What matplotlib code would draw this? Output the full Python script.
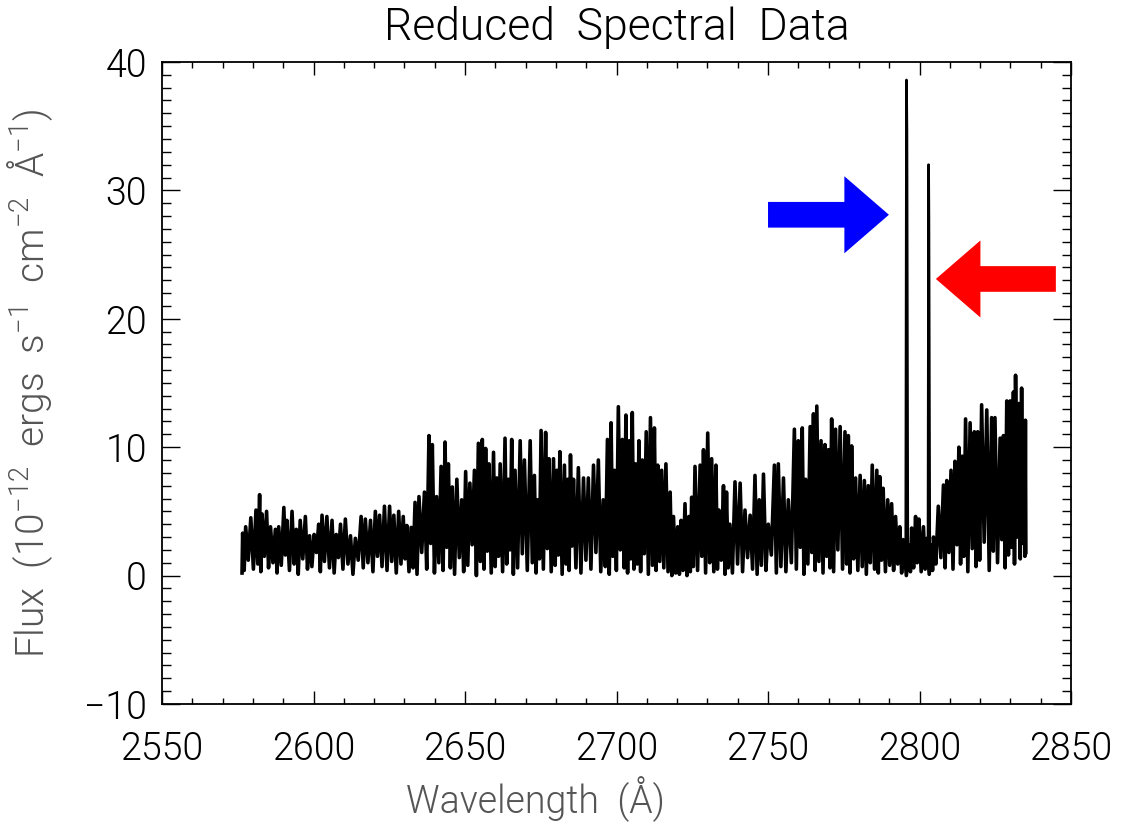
import numpy as np
import matplotlib
matplotlib.use("Agg")
import matplotlib.pyplot as plt
from matplotlib import font_manager as fm

# ---------------- data ----------------
# local maxima of the noisy continuum (Angstrom, flux in 1e-12 units)
wave_peak = [
    2576.6, 2577.6, 2579.3, 2581.0, 2582.2, 2583.0, 2584.5, 2585.8, 2587.4, 2588.5,
    2590.2, 2591.2, 2592.9, 2594.3, 2595.6, 2597.3, 2598.7, 2600.2, 2601.7, 2602.8,
    2604.4, 2606.1, 2607.5, 2608.9, 2610.5, 2612.2, 2613.8, 2615.7, 2617.1, 2618.8,
    2620.4, 2621.8, 2623.4, 2625.1, 2626.5, 2628.1, 2629.6, 2630.8, 2632.2, 2633.5,
    2634.8, 2636.6, 2638.1, 2639.2, 2640.6, 2642.1, 2643.4, 2644.5, 2645.8, 2647.3,
    2648.9, 2650.2, 2651.6, 2653.1, 2654.4, 2655.7, 2656.8, 2657.9, 2659.4, 2660.5,
    2661.6, 2663.2, 2664.3, 2665.4, 2666.5, 2668.2, 2669.6, 2671.5, 2672.9, 2674.0,
    2675.1, 2676.6, 2677.7, 2679.2, 2680.3, 2681.3, 2682.8, 2683.9, 2684.8, 2685.8,
    2687.4, 2689.1, 2690.7, 2692.4, 2694.0, 2695.6, 2697.0, 2698.2, 2699.3, 2700.6,
    2701.9, 2703.1, 2704.2, 2705.2, 2706.3, 2707.4, 2708.5, 2709.8, 2711.2, 2712.5,
    2713.6, 2714.9, 2716.3, 2717.7, 2718.8, 2720.2, 2721.3, 2722.6, 2723.9, 2724.8,
    2725.9, 2727.6, 2728.7, 2730.1, 2731.4, 2732.8, 2733.8, 2735.3, 2736.3, 2737.4,
    2739.1, 2740.8, 2742.4, 2744.1, 2745.7, 2747.1, 2748.5, 2750.1, 2752.1, 2753.4,
    2755.1, 2756.7, 2758.7, 2760.0, 2761.3, 2762.4, 2763.9, 2765.0, 2766.1, 2767.5,
    2768.8, 2769.9, 2771.0, 2772.3, 2773.8, 2775.4, 2776.5, 2777.6, 2778.9, 2780.4,
    2781.8, 2783.1, 2784.4, 2785.9, 2786.9, 2788.0, 2789.5, 2790.8, 2792.1, 2793.5,
    2794.7, 2796.6, 2797.4, 2798.7, 2799.8, 2801.3, 2802.4, 2804.0, 2804.6, 2806.2,
    2807.9, 2809.0, 2810.4, 2811.7, 2813.0, 2814.1, 2815.2, 2816.7, 2818.1, 2819.2,
    2820.5, 2822.2, 2823.8, 2824.9, 2826.6, 2827.7, 2828.8, 2829.9, 2831.0, 2831.7,
    2832.8, 2833.7, 2834.6, 2834.95,
]
flux_peak = [
    3.3, 3.8, 4.5, 5.1, 6.3, 4.8, 5.0, 3.8, 3.6, 3.8,
    5.3, 4.3, 5.0, 3.6, 4.3, 4.6, 3.1, 3.2, 4.0, 4.7,
    4.6, 4.3, 3.2, 4.0, 4.4, 3.1, 2.9, 4.6, 4.4, 4.3,
    5.0, 4.7, 5.4, 5.4, 4.7, 5.0, 4.6, 3.9, 3.75, 5.7,
    6.15, 6.5, 10.9, 10.2, 6.15, 8.5, 10.4, 8.7, 6.9, 7.5,
    5.9, 8.1, 7.2, 8.2, 10.3, 10.6, 9.9, 8.7, 9.6, 7.6,
    8.7, 10.7, 7.5, 10.6, 8.2, 10.5, 9.0, 10.5, 7.8, 5.9,
    11.3, 11.15, 9.1, 9.1, 8.2, 9.65, 8.6, 7.5, 9.4, 7.5,
    8.4, 7.6, 7.6, 8.6, 9.0, 5.9, 10.6, 11.9, 8.2, 13.15,
    10.6, 12.5, 10.5, 12.7, 8.7, 10.5, 9.0, 11.2, 12.3, 11.5,
    8.6, 8.2, 8.7, 6.5, 4.6, 3.8, 4.3, 5.6, 4.6, 6.1,
    8.5, 8.6, 9.8, 11.1, 9.1, 8.6, 5.1, 7.0, 6.5, 4.0,
    7.3, 7.2, 5.1, 4.7, 7.8, 5.9, 7.9, 4.0, 8.6, 8.7,
    7.6, 5.9, 11.4, 10.5, 11.5, 7.5, 11.6, 12.6, 13.2, 10.5,
    10.2, 9.8, 12.2, 11.4, 11.6, 11.2, 10.9, 10.1, 7.6, 7.8,
    7.4, 7.0, 8.6, 8.2, 7.7, 6.8, 5.9, 5.6, 4.6, 3.8,
    2.8, 2.4, 3.7, 4.6, 4.4, 3.8, 2.9, 2.4, 3.0, 5.4,
    7.05, 7.4, 8.2, 8.9, 10.0, 9.3, 12.2, 11.9, 11.2, 11.2,
    13.3, 12.9, 12.3, 12.3, 10.7, 10.9, 13.6, 13.6, 14.3, 15.6,
    13.4, 14.6, 12.0, 12.1,
]
# local minima, one following each maximum
flux_trough = [
    0.4, 1.2, 0.5, 0.9, 0.3, 1.5, 0.6, 1.0, 0.2, 0.8,
    1.6, 0.4, 0.9, 0.1, 1.3, 0.5, 0.7, 1.8, 0.3, 1.1,
    0.6, 0.2, 1.4, 0.5, 0.9, 0.1, 1.2, 0.6, 1.0, 0.3,
    1.5, 0.7, 0.4, 1.1, 0.2, 0.9, 1.3, 0.3, 0.6, 0.1,
    1.8, 0.5, 2.5, 0.2, 1.0, 0.4, 2.2, 0.6, 0.1, 1.4,
    0.3, 0.8, 2.4, 0.0, 1.1, 0.5, 1.9, 0.2, 0.7, 1.5,
    0.3, 0.9, 2.0, 0.1, 0.6, 1.7, 0.4, 1.0, 0.2, 1.3,
    0.5, 2.1, 0.3, 0.8, 1.6, 0.1, 0.9, 0.4, 2.3, 0.6,
    0.2, 1.2, 0.5, 1.8, 0.3, 0.7, 0.1, 1.5, 0.4, 2.0,
    0.6, 0.2, 1.3, 0.5, 0.9, 0.3, 1.7, 0.1, 0.8, 0.4,
    1.1, 0.6, 0.3, 0.0, 0.2, 0.1, 0.4, 0.0, 0.3, 0.7,
    0.4, 1.5, 0.2, 1.0, 0.3, 0.5, 1.2, 0.1, 0.6, 0.2,
    0.9, 0.3, 1.4, 0.5, 0.1, 0.8, 0.4, 1.6, 0.2, 0.7,
    0.3, 1.0, 0.5, 2.2, 0.1, 0.9, 1.8, 0.4, 1.1, 0.2,
    1.5, 0.6, 0.3, 2.0, 0.5, 0.9, 0.2, 1.3, 0.4, 0.7,
    0.1, 1.0, 0.5, 0.2, 1.2, 0.3, 0.8, 0.4, 0.9, 0.2,
    0.0, 0.3, 0.6, 1.0, 0.3, 0.5, 0.1, 0.4, 0.9, 1.4,
    0.6, 1.8, 0.5, 2.4, 0.9, 1.5, 0.3, 2.1, 0.7, 1.2,
    2.6, 0.4, 1.9, 1.0, 2.8, 0.6, 1.6, 2.2, 0.9, 3.0,
    1.3, 2.5, 1.5, 1.8,
]
flux_start = 0.2

# Mg II emission lines
mgk_wave = [2795.45, 2795.7, 2795.85, 2796.15]
mgk_flux = [1.0, 38.6, 34.5, 0.8]
mgh_wave = [2802.8, 2803.0, 2803.1, 2803.4]
mgh_flux = [1.2, 32.0, 28.0, 1.0]

# arrows (tail wavelength, tip wavelength, flux level)
blue_arrow = (2750.0, 2789.9, 28.1)
red_arrow = (2845.0, 2805.4, 23.1)

title = "Reduced  Spectral  Data"
xlabel = "Wavelength  (Å)"
ylabel = r"Flux  (10$^{-12}$  ergs  s$^{-1}$  cm$^{-2}$  Å$^{-1}$)"

# ---------------- font ----------------
def pick_font():
    prefs = [("Roboto", 300), ("Lato", 300), ("Open Sans", 300),
             ("Noto Sans", 300), ("DejaVu Sans", 200)]
    entries = []
    for f in fm.fontManager.ttflist:
        w = f.weight
        if not isinstance(w, int):
            w = fm.weight_dict.get(str(w), 400)
        entries.append((f.name, w, f.style))
    for name, want in prefs:
        for n, w, s in entries:
            if n == name and s == "normal" and w == want:
                return name, w
    return "DejaVu Sans", 400

fname, fweight = pick_font()
plt.rcParams["font.family"] = [fname, "DejaVu Sans"]
plt.rcParams["font.weight"] = fweight
plt.rcParams["axes.titleweight"] = fweight
plt.rcParams["axes.labelweight"] = fweight
plt.rcParams["mathtext.default"] = "regular"

# ---------------- build the spectrum polyline ----------------
wp = np.array(wave_peak)
fp = np.array(flux_peak)
ft = np.array(flux_trough)
trough_wave = np.append((wp[:-1] + wp[1:]) / 2.0, wp[-1] + 0.15)
n = len(wp)
x = np.empty(2 * n + 1)
y = np.empty(2 * n + 1)
x[0] = wp[0] - 0.2
y[0] = flux_start
x[1::2] = wp
y[1::2] = fp
x[2::2] = trough_wave
y[2::2] = ft

# ---------------- figure ----------------
fig = plt.figure(figsize=(11.23, 8.22), dpi=100)
ax = fig.add_axes([0.1443, 0.1436, 0.8094, 0.7810])

ax.plot(x, y, color="black", lw=2.6, solid_joinstyle="round")
ax.plot(mgk_wave, mgk_flux, color="black", lw=1.9)
ax.plot(mgh_wave, mgh_flux, color="black", lw=1.9)

for (tail, tip, fy), col in ((blue_arrow, "#0000ff"), (red_arrow, "#ff0000")):
    ax.arrow(tail, fy, tip - tail, 0, width=2.0, head_width=6.0,
             head_length=14.7, length_includes_head=True,
             fc=col, ec="none", lw=0, zorder=3)

ax.set_xlim(2550, 2850)
ax.set_ylim(-10, 40)
ax.set_xticks(np.arange(2550, 2851, 50))
ax.set_xticks(np.arange(2550, 2851, 10), minor=True)
ax.set_yticks(np.arange(-10, 41, 10))
ax.set_yticks(np.arange(-10, 41, 1), minor=True)

ax.tick_params(which="both", direction="in", top=True, right=True,
               width=1.0, colors="black")
ax.xaxis.set_tick_params(which="major", length=9.4, pad=19, labelsize=27)
ax.xaxis.set_tick_params(which="minor", length=4.3)
ax.yaxis.set_tick_params(which="major", length=13.3, pad=11, labelsize=27)
ax.yaxis.set_tick_params(which="minor", length=6.8)
for sp in ax.spines.values():
    sp.set_linewidth(1.3)

ax.set_title(title, fontsize=32, pad=16)
ax.set_xlabel(xlabel, fontsize=27, color="#555555")
ax.xaxis.set_label_coords(0.411, -0.113)
ax.set_ylabel(ylabel, fontsize=28, color="#555555")
ax.yaxis.set_label_coords(-0.118, 0.5)

fig.savefig("out.png", dpi=100)
